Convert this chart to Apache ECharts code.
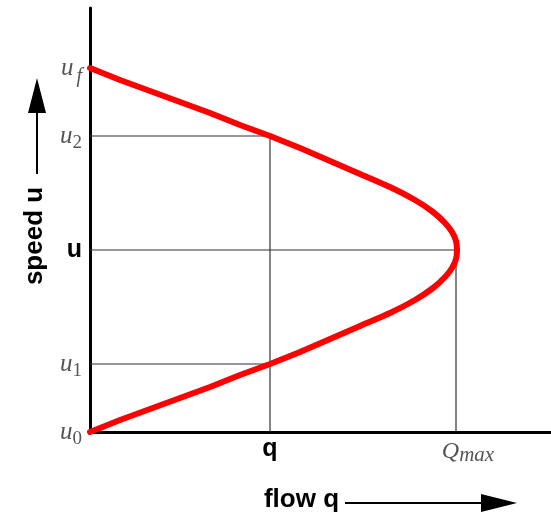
<html>
<head>
<meta charset="utf-8">
<title>speed-flow</title>
<script src="https://cdn.jsdelivr.net/npm/echarts@6/dist/echarts.min.js"></script>
<style>
  body { margin: 0; background: #fff; }
  #main { width: 551px; height: 518px; }
</style>
</head>
<body>
<div id="main"></div>
<script>
// curve: flow q against speed u (from u_f down to u_0)
var curveQ = [0, 30, 60, 90, 120, 150, 180, 210, 240, 270, 300, 325, 343, 355, 362, 366, 367,
              366, 362, 355, 343, 325, 300, 270, 240, 210, 180, 150, 120, 90, 60, 30, 0];
var curveU = [364, 352, 341, 330, 319, 307, 296, 284, 271, 258, 245, 232, 220, 209, 200, 191, 182,
              173, 164, 155, 144, 132, 119, 106, 93, 80, 68, 57, 45, 34, 23, 12, 0];

// marked values on the axes
var speedTicks = [0, 68, 182, 296, 364];
var speedLabels = ['{u|u}{s|0}', '{u|u}{s|1}', '{b|u}', '{u|u}{s|2}', '{u|u}{f|f}'];
var flowTicks = [180, 366];
var flowLabels = ['{b|q}', '{Q|Q}{m|max}'];

var qMark = 180, qMax = 366, u1 = 68, uMid = 182, u2 = 296;

function pairs(xs, ys) {
    return xs.map(function (x, i) { return [x, ys[i]]; });
}

var serif = 'Liberation Serif';
var guide = { color: '#333', width: 1.2 };

var myChart = echarts.init(document.getElementById('main'));

var option = {
    animation: false,
    grid: { left: 90, right: 0, top: 8, bottom: 86 },
    xAxis: {
        type: 'value',
        min: 0,
        max: 461,
        splitLine: { show: false },
        axisTick: { show: false },
        axisLine: { lineStyle: { color: '#000', width: 3 } },
        name: 'flow q',
        nameLocation: 'middle',
        nameGap: 55,
        nameTextStyle: { fontFamily: 'Liberation Sans', fontWeight: 'bold', fontSize: 26, color: '#000', padding: [0, 38, 0, 0] },
        axisLabel: {
            customValues: flowTicks,
            margin: 5,
            formatter: function (v) { return flowLabels[flowTicks.indexOf(v)]; },
            rich: {
                b: { fontFamily: 'Liberation Sans', fontWeight: 'bold', fontSize: 25, color: '#000' },
                Q: { fontFamily: serif, fontStyle: 'italic', fontSize: 24, color: '#555', padding: [0, 0, 0, 24] },
                m: { fontFamily: serif, fontStyle: 'italic', fontSize: 21, color: '#555', padding: [8, 0, 0, 0] }
            }
        }
    },
    yAxis: {
        type: 'value',
        min: 0,
        max: 424,
        splitLine: { show: false },
        axisTick: { show: false },
        axisLine: { lineStyle: { color: '#000', width: 3 } },
        name: 'speed u',
        nameLocation: 'middle',
        nameGap: 42,
        nameRotate: 90,
        nameTextStyle: { fontFamily: 'Liberation Sans', fontWeight: 'bold', fontSize: 26, color: '#000', padding: [0, 32, 0, 0] },
        axisLabel: {
            customValues: speedTicks,
            margin: 8,
            formatter: function (v) { return speedLabels[speedTicks.indexOf(v)]; },
            rich: {
                u: { fontFamily: serif, fontStyle: 'italic', fontSize: 25, color: '#555' },
                s: { fontFamily: serif, fontSize: 19, color: '#555', padding: [14, 0, 0, 0] },
                f: { fontFamily: serif, fontStyle: 'italic', fontSize: 20, color: '#555', padding: [18, 0, 0, 3] },
                b: { fontFamily: 'Liberation Sans', fontWeight: 'bold', fontSize: 25, color: '#000' }
            }
        }
    },
    graphic: [
        // arrow next to "speed u"
        { type: 'line', shape: { x1: 37, y1: 174, x2: 37, y2: 105 }, style: { stroke: '#000', lineWidth: 2 } },
        { type: 'polygon', shape: { points: [[28, 113], [46, 113], [37, 78]] }, style: { fill: '#000' } },
        // arrow next to "flow q"
        { type: 'line', shape: { x1: 345, y1: 503, x2: 490, y2: 503 }, style: { stroke: '#000', lineWidth: 2 } },
        { type: 'polygon', shape: { points: [[481, 494], [481, 512], [517, 503]] }, style: { fill: '#000' } }
    ],
    series: [
        {
            type: 'line', symbol: 'none', silent: true, z: 1,
            lineStyle: guide,
            data: [[0, u2], [qMark, u2], [qMark, 0]]
        },
        {
            type: 'line', symbol: 'none', silent: true, z: 1,
            lineStyle: guide,
            data: [[0, u1], [qMark, u1]]
        },
        {
            type: 'line', symbol: 'none', silent: true, z: 1,
            lineStyle: guide,
            data: [[0, uMid], [qMax, uMid], [qMax, 0]]
        },
        {
            name: 'u-q',
            type: 'line',
            symbol: 'none',
            smooth: 0.2,
            z: 3,
            lineStyle: { color: '#ff0000', width: 6, join: 'round', cap: 'round' },
            data: pairs(curveQ, curveU)
        }
    ]
};

myChart.setOption(option);
</script>
</body>
</html>
